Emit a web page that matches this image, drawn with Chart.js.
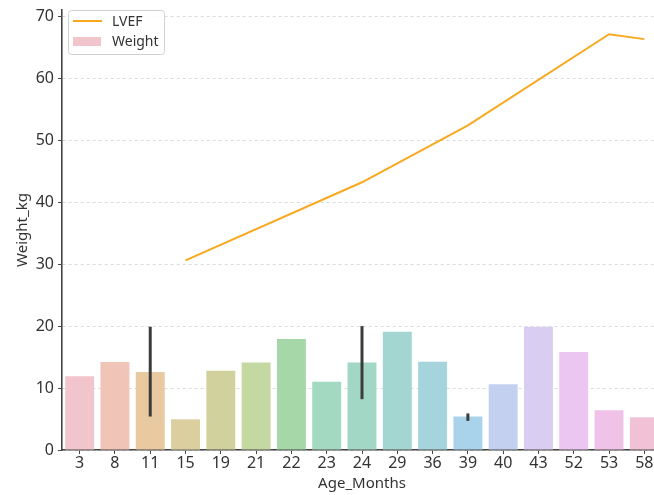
<!DOCTYPE html>
<html>
<head>
<meta charset="utf-8">
<script src="https://cdn.jsdelivr.net/npm/chart.js@4/dist/chart.umd.min.js"></script>
<style>
  html, body { margin: 0; padding: 0; background: #fff; overflow: hidden; }
  #wrap { width: 654px; height: 495px; overflow: hidden; position: relative; }
  #c { display: block; }
</style>
</head>
<body>
<div id="wrap"><canvas id="c" width="664" height="495" style="width:664px;height:495px"></canvas></div>
<script>
// Age groups on the x axis
const ageMonths = ['3', '8', '11', '15', '19', '21', '22', '23', '24', '29', '36', '39', '40', '43', '52', '53', '58'];

// Mean weight (kg) for each age group
const weightKg = [11.9, 14.2, 12.6, 4.95, 12.8, 14.1, 17.9, 11.0, 14.1, 19.1, 14.25, 5.4, 10.6, 19.9, 15.8, 6.4, 5.3];

// Spread of weight where an age group has several measurements
const weightLow  = [null, null, 5.4, null, null, null, null, null, 8.2, null, null, 4.7, null, null, null, null, null];
const weightHigh = [null, null, 19.9, null, null, null, null, null, 20.0, null, null, 5.9, null, null, null, null, null];

// LVEF readings (only some age groups have one)
const lvef = [null, null, null, 30.6, null, null, null, null, 43.2, null, null, 52.4, null, null, null, 67.1, 66.3];

// Bar fill colours, one per age group
const barColors = ['#f2c5cd', '#f1c4b8', '#e8c9a0', '#dccf9f', '#d1d19d', '#c4d8a2', '#a6d7a8', '#a3d9c1',
                   '#a2d7c6', '#a3d6d1', '#a6d4dc', '#a8d3eb', '#c4d0f0', '#d9cef2', '#eac6f0', '#f1c2e7', '#f1c1d6'];

const yTicks = [0, 10, 20, 30, 40, 50, 60, 70];

const FONT = 'Noto Sans';
const TEXT = '#333333';
const AXIS = '#444444';

// Vertical spread lines drawn on top of the bars
const errorBars = {
  id: 'errorBars',
  afterDatasetsDraw(chart) {
    const { ctx, scales: { x, y } } = chart;
    ctx.save();
    ctx.strokeStyle = '#3c3c3c';
    ctx.lineWidth = 3;
    ctx.lineCap = 'butt';
    weightLow.forEach((lo, i) => {
      const hi = weightHigh[i];
      if (lo == null || hi == null) return;
      const px = x.getPixelForValue(i);
      ctx.beginPath();
      ctx.moveTo(px, y.getPixelForValue(lo));
      ctx.lineTo(px, y.getPixelForValue(hi));
      ctx.stroke();
    });
    ctx.restore();
  }
};

// Boxed legend in the upper-left corner of the plot
const boxLegend = {
  id: 'boxLegend',
  afterDraw(chart) {
    const { ctx, chartArea } = chart;
    const [lineDs, barDs] = [chart.data.datasets[1], chart.data.datasets[0]];
    const x0 = chartArea.left + 6, y0 = chartArea.top;
    const w = 96, h = 44;
    ctx.save();
    ctx.fillStyle = 'rgba(255,255,255,0.85)';
    ctx.strokeStyle = '#d0d0d0';
    ctx.lineWidth = 1;
    ctx.beginPath();
    ctx.roundRect(x0 + 0.5, y0 + 0.5, w, h, 3);
    ctx.fill();
    ctx.stroke();

    ctx.strokeStyle = lineDs.borderColor;
    ctx.lineWidth = 2;
    ctx.beginPath();
    ctx.moveTo(x0 + 5, y0 + 11);
    ctx.lineTo(x0 + 34, y0 + 11);
    ctx.stroke();

    ctx.fillStyle = barDs.backgroundColor[0];
    ctx.fillRect(x0 + 5, y0 + 27, 28, 9);

    ctx.fillStyle = TEXT;
    ctx.font = '14px "' + FONT + '"';
    ctx.textBaseline = 'middle';
    ctx.fillText(lineDs.label, x0 + 44, y0 + 12);
    ctx.fillText(barDs.label, x0 + 44, y0 + 32);
    ctx.restore();
  }
};

new Chart(document.getElementById('c'), {
  data: {
    labels: ageMonths,
    datasets: [
      {
        type: 'bar',
        label: 'Weight',
        data: weightKg,
        backgroundColor: barColors,
        borderWidth: 0,
        categoryPercentage: 1.0,
        barPercentage: 0.82,
        order: 2
      },
      {
        type: 'line',
        label: 'LVEF',
        data: lvef,
        borderColor: '#f8a91f',
        borderWidth: 2,
        pointRadius: 0,
        spanGaps: true,
        tension: 0,
        fill: false,
        order: 1
      }
    ]
  },
  plugins: [errorBars, boxLegend],
  options: {
    responsive: false,
    animation: false,
    devicePixelRatio: 1,
    layout: { padding: { top: 10, right: 2, left: 0, bottom: 0 } },
    plugins: {
      legend: { display: false },
      tooltip: { enabled: false }
    },
    scales: {
      x: {
        type: 'category',
        offset: true,
        grid: {
          offset: false,
          drawOnChartArea: false,
          drawTicks: true,
          tickLength: 4,
          tickColor: AXIS,
          tickWidth: 1
        },
        border: { display: true, color: AXIS, width: 1.6 },
        ticks: {
          color: TEXT,
          font: { family: FONT, size: 16 },
          padding: 0,
          maxRotation: 0,
          autoSkip: false
        },
        title: {
          display: true,
          text: 'Age_Months',
          color: TEXT,
          font: { family: FONT, size: 15 },
          padding: { top: 0, bottom: 2 }
        },
        afterFit(scale) { scale.height = 45; }
      },
      y: {
        type: 'linear',
        min: 0,
        max: 71,
        grid: {
          color: '#d4d4d4',
          lineWidth: 0.8,
          drawTicks: true,
          tickLength: 4,
          tickColor: AXIS,
          tickWidth: 1
        },
        border: { display: true, color: AXIS, width: 1.6, dash: [3, 3] },
        ticks: {
          color: TEXT,
          font: { family: FONT, size: 16 },
          padding: 4,
          stepSize: 10
        },
        afterBuildTicks(scale) {
          scale.ticks = yTicks.map(v => ({ value: v }));
        },
        title: {
          display: true,
          text: 'Weight_kg',
          color: TEXT,
          font: { family: FONT, size: 15 },
          padding: { top: 14, bottom: 0 }
        },
        afterFit(scale) {
          scale.width = 62;
          scale.paddingTop = 0;
          scale.paddingBottom = 0;
        }
      }
    }
  }
});
</script>
</body>
</html>
